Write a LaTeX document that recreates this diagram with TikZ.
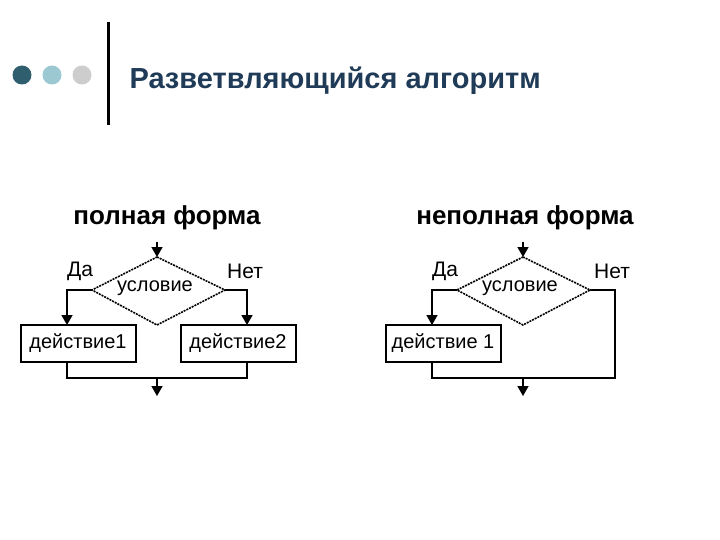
\documentclass[tikz,border=0pt]{standalone}
\usepackage{fontspec}
\setmainfont{Liberation Sans}
\usetikzlibrary{arrows.meta}
\definecolor{dteal}{HTML}{2F5F6E}
\definecolor{lblue}{HTML}{9CC8D2}
\definecolor{lgray}{HTML}{CDCDCD}
\definecolor{ttl}{HTML}{1F3B57}
\begin{document}
\begin{tikzpicture}[x=1pt,y=-1pt,
  line/.style={draw=black,line width=1.6pt},
  arr/.style={line,-{Triangle[length=10pt,width=11pt]}},
  box/.style={draw=black,line width=2pt,minimum width=115pt,minimum height=37pt,inner sep=0pt,font=\fontsize{20}{22}\selectfont},
  lbl/.style={font=\fontsize{21}{23}\selectfont},
  head/.style={font=\bfseries\fontsize{26}{28}\selectfont}]
\useasboundingbox (0,0) rectangle (720,540);
\fill[white] (0,0) rectangle (720,540);
% header
\fill[dteal] (22,75) circle (9.5);
\fill[lblue] (52,75) circle (9.5);
\fill[lgray] (82,75) circle (9.5);
\draw[line width=3pt] (108,22) -- (108,125);
\node[anchor=west,text=ttl,font=\bfseries\fontsize{29}{31}\selectfont] (title) at (126,81) {Разветвляющийся алгоритм};
% left
\node[head] (h1) at (167,218) {полная форма};
\coordinate (t1) at (157,257); \coordinate (l1) at (92,290);
\coordinate (r1) at (225,290); \coordinate (b1) at (157,325);
\draw[line,dash pattern=on 2pt off 1pt] (t1)--(r1)--(b1)--(l1)--cycle;
\node[font=\fontsize{20}{22}\selectfont] (c1) at (155,288) {условие};
\coordinate (in1) at (157,242);
\draw[arr] (in1)--(t1);
\node[box] (a1) at (78,343) {действие1};
\node[box] (a2) at (238,343) {действие2};
\draw[arr] (l1) -| (67,325);
\draw[arr] (r1) -| (247,325);
\node[lbl] (y1) at (80,271) {Да};
\node[lbl] (n1) at (245,271) {Нет};
\coordinate (j1) at (157,378); \coordinate (o1) at (157,396);
\draw[line] (67,362) |- (j1) -| (247,362);
\draw[arr] (j1)--(o1);
% right
\node[head] (h2) at (525,218) {неполная форма};
\coordinate (t2) at (523,257); \coordinate (l2) at (457,290);
\coordinate (r2) at (590,290); \coordinate (b2) at (523,325);
\draw[line,dash pattern=on 2pt off 1pt] (t2)--(r2)--(b2)--(l2)--cycle;
\node[font=\fontsize{20}{22}\selectfont] (c2) at (520,288) {условие};
\coordinate (in2) at (523,242);
\draw[arr] (in2)--(t2);
\node[box] (a3) at (443,343) {действие 1};
\draw[arr] (l2) -| (432,325);
\node[lbl] (y2) at (445,271) {Да};
\node[lbl] (n2) at (612,271) {Нет};
\coordinate (j2) at (523,378); \coordinate (o2) at (523,396);
\draw[line] (432,362) |- (j2);
\draw[line] (r2) -| (615,378) -- (j2);
\draw[arr] (j2)--(o2);
\end{tikzpicture}
\end{document}
